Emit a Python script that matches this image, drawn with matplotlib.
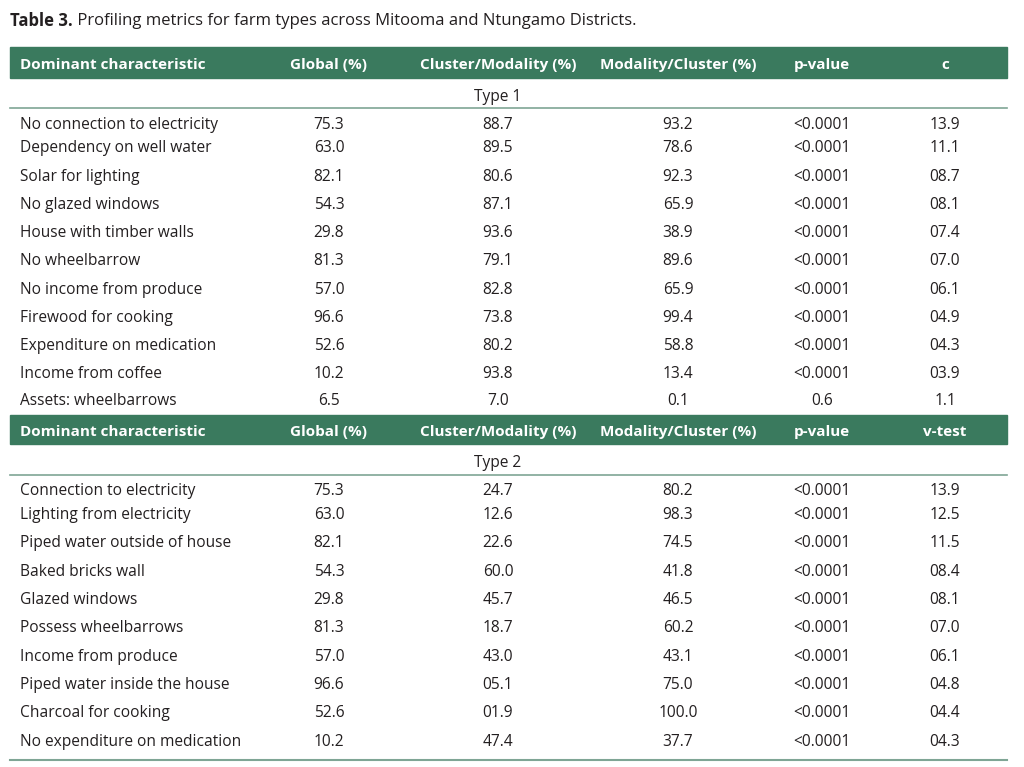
import matplotlib
matplotlib.use("Agg")
import matplotlib.pyplot as plt
from matplotlib.patches import Rectangle
from matplotlib.lines import Line2D

# ---------------------------------------------------------------------------
# Table data
# ---------------------------------------------------------------------------
TITLE_BOLD = "Table 3."
TITLE_REST = " Profiling metrics for farm types across Mitooma and Ntungamo Districts."

HEADER_1 = ["Dominant characteristic", "Global (%)", "Cluster/Modality (%)",
            "Modality/Cluster (%)", "p-value", "c"]
HEADER_2 = ["Dominant characteristic", "Global (%)", "Cluster/Modality (%)",
            "Modality/Cluster (%)", "p-value", "v-test"]

type1_labels = ["No connection to electricity", "Dependency on well water",
                "Solar for lighting", "No glazed windows", "House with timber walls",
                "No wheelbarrow", "No income from produce", "Firewood for cooking",
                "Expenditure on medication", "Income from coffee",
                "Assets: wheelbarrows"]
type1_global = ["75.3", "63.0", "82.1", "54.3", "29.8", "81.3", "57.0", "96.6",
                "52.6", "10.2", "6.5"]
type1_clmod = ["88.7", "89.5", "80.6", "87.1", "93.6", "79.1", "82.8", "73.8",
               "80.2", "93.8", "7.0"]
type1_modcl = ["93.2", "78.6", "92.3", "65.9", "38.9", "89.6", "65.9", "99.4",
               "58.8", "13.4", "0.1"]
type1_p = ["<0.0001"] * 10 + ["0.6"]
type1_c = ["13.9", "11.1", "08.7", "08.1", "07.4", "07.0", "06.1", "04.9",
           "04.3", "03.9", "1.1"]

type2_labels = ["Connection to electricity", "Lighting from electricity",
                "Piped water outside of house", "Baked bricks wall", "Glazed windows",
                "Possess wheelbarrows", "Income from produce",
                "Piped water inside the house", "Charcoal for cooking",
                "No expenditure on medication"]
type2_global = ["75.3", "63.0", "82.1", "54.3", "29.8", "81.3", "57.0", "96.6",
                "52.6", "10.2"]
type2_clmod = ["24.7", "12.6", "22.6", "60.0", "45.7", "18.7", "43.0", "05.1",
               "01.9", "47.4"]
type2_modcl = ["80.2", "98.3", "74.5", "41.8", "46.5", "60.2", "43.1", "75.0",
               "100.0", "37.7"]
type2_p = ["<0.0001"] * 10
type2_v = ["13.9", "12.5", "11.5", "08.4", "08.1", "07.0", "06.1", "04.8",
           "04.4", "04.3"]

# ---------------------------------------------------------------------------
# Layout (pixels)
# ---------------------------------------------------------------------------
W, H = 1024, 767
GREEN = "#3a7a5e"
RULE = "#7fa595"
TEXT = "#231f20"
FONT = ["Open Sans", "DejaVu Sans"]
BODY_SIZE = 11.2
HEAD_SIZE = 11.0

COL_X = [20, 329, 498, 678, 822, 945]
TABLE_L, TABLE_R = 10, 1007

type1_y = [123, 146, 175, 203, 231, 259, 288, 316, 344, 372, 399]
type2_y = [489, 513, 541, 570, 598, 626, 655, 683, 711, 740]

fig = plt.figure(figsize=(W / 100, H / 100), dpi=100)
fig.patch.set_facecolor("white")


def fx(x):
    return x / W


def fy(y):
    return 1 - y / H


def put(x, y, s, ha="center", color=TEXT, weight="normal", size=BODY_SIZE):
    fig.text(fx(x), fy(y), s, ha=ha, va="center_baseline", color=color,
             fontweight=weight, fontsize=size, family=FONT)


def header(top, bottom, labels):
    fig.patches.append(Rectangle((fx(TABLE_L), fy(bottom)),
                                 fx(TABLE_R) - fx(TABLE_L), fy(top) - fy(bottom),
                                 transform=fig.transFigure, color=GREEN, zorder=0))
    yc = (top + bottom) / 2 + 1
    for i, lab in enumerate(labels):
        put(COL_X[i], yc, lab, ha="left" if i == 0 else "center",
            color="white", weight="bold", size=HEAD_SIZE)


def rule(y, lw=1.2):
    fig.lines.append(Line2D([fx(TABLE_L), fx(TABLE_R)], [fy(y), fy(y)],
                            transform=fig.transFigure, color=RULE, linewidth=lw))


def rows(ys, cols):
    for j, y in enumerate(ys):
        for i, col in enumerate(cols):
            put(COL_X[i], y, col[j], ha="left" if i == 0 else "center")


# title
t = fig.text(fx(10), fy(19), TITLE_BOLD, ha="left", va="center_baseline", color=TEXT,
             fontweight="bold", fontsize=12, family=FONT)
fig.canvas.draw()
bb = t.get_window_extent()
fig.text(bb.x1 / W, fy(19), TITLE_REST, ha="left", va="center_baseline", color=TEXT,
         fontsize=12, family=FONT)

# Type 1 block
header(47, 78, HEADER_1)
put(498, 95, "Type 1")
rule(108)
rows(type1_y, [type1_labels, type1_global, type1_clmod, type1_modcl, type1_p, type1_c])

# Type 2 block
header(415, 444, HEADER_2)
put(498, 461, "Type 2")
rule(475)
rows(type2_y, [type2_labels, type2_global, type2_clmod, type2_modcl, type2_p, type2_v])
rule(760, lw=1.5)

fig.savefig("out.png", dpi=100)
